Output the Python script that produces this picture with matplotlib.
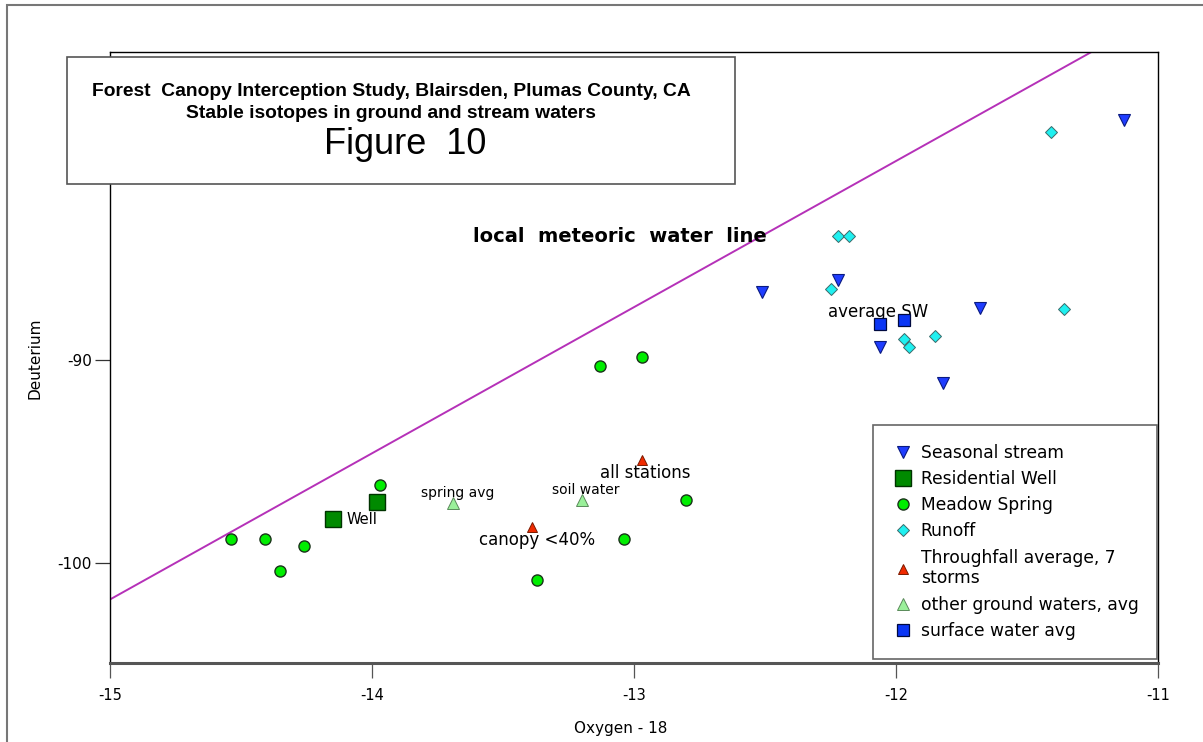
"""Stable isotope plot (deuterium vs oxygen-18) for the canopy interception study."""
import matplotlib
matplotlib.use("Agg")
import matplotlib.pyplot as plt
from matplotlib.patches import Rectangle

# --- data ------------------------------------------------------------------
seasonal_o18 = [-11.13, -12.51, -12.22, -12.06, -11.82, -11.68]
seasonal_d = [-78.20, -86.65, -86.05, -89.35, -91.15, -87.45]

well_o18 = [-14.15, -13.98]
well_d = [-97.85, -96.98]

spring_o18 = [-14.54, -14.41, -14.26, -14.35, -13.97, -13.13, -12.97, -12.80, -13.04, -13.37]
spring_d = [-98.82, -98.82, -99.16, -100.39, -96.16, -90.30, -89.85, -96.90, -98.82, -100.84]

runoff_o18 = [-11.41, -12.22, -12.18, -12.25, -11.36, -11.97, -11.95, -11.85]
runoff_d = [-78.78, -83.89, -83.89, -86.52, -87.50, -88.98, -89.34, -88.80]

throughfall_o18 = [-12.97, -13.39]
throughfall_d = [-94.93, -98.24]
throughfall_labels = ["all stations", "canopy <40%"]

ground_avg_o18 = [-13.69, -13.20]
ground_avg_d = [-97.03, -96.90]
ground_avg_labels = ["spring avg", "soil water"]

sw_avg_o18 = [-12.06, -11.97]
sw_avg_d = [-88.24, -88.03]

# local meteoric water line end points
mwl_o18 = [-15.0, -11.0]
mwl_d = [-101.8, -73.0]

x_ticks = [-15, -14, -13, -12, -11]
y_ticks = [-100, -90]

plt.rcParams["font.family"] = ["DejaVu Sans"]

W, H = 1203, 742
fig = plt.figure(figsize=(W / 100, H / 100), dpi=100)


def fx(px):
    return px / W


def fy(py):
    return 1 - py / H


ax = fig.add_axes([fx(110), fy(663), fx(1158) - fx(110), fy(52) - fy(663)])
ax.set_xlim(-15, -11)
ax.set_ylim(-104.93, -74.83)

# meteoric water line
ax.plot(mwl_o18, mwl_d, color="#b531b8", linewidth=1.4, zorder=2)

# series, in legend order
ax.plot(seasonal_o18, seasonal_d, "v", ms=8, mfc="#1f3dff", mec="#0a1a80", mew=0.8,
        linestyle="none", label="Seasonal stream", zorder=4)
ax.plot(well_o18, well_d, "s", ms=11, mfc="#008a00", mec="#003300", mew=1.0,
        linestyle="none", label="Residential Well", zorder=4)
ax.plot(spring_o18, spring_d, "o", ms=8, mfc="#00ee00", mec="#1a331a", mew=1.0,
        linestyle="none", label="Meadow Spring", zorder=4)
ax.plot(runoff_o18, runoff_d, "D", ms=6, mfc="#1ff0f0", mec="#3a6a6a", mew=0.7,
        linestyle="none", label="Runoff", zorder=4)
ax.plot(throughfall_o18, throughfall_d, "^", ms=7.5, mfc="#f02a00", mec="#7a1a00", mew=0.7,
        linestyle="none", label="Throughfall average, 7\nstorms", zorder=4)
ax.plot(ground_avg_o18, ground_avg_d, "^", ms=8, mfc="#9af09a", mec="#5a8a5a", mew=0.7,
        linestyle="none", label="other ground waters, avg", zorder=4)
ax.plot(sw_avg_o18, sw_avg_d, "s", ms=8.5, mfc="#0b36f5", mec="#000a40", mew=0.9,
        linestyle="none", label="surface water avg", zorder=4)

# point annotations
ax.annotate("Well", (well_o18[0], well_d[0]), xytext=(10, 0), textcoords="offset points",
            ha="left", va="center", fontsize=10.5)
for o, d, lab in zip(ground_avg_o18, ground_avg_d, ground_avg_labels):
    ax.annotate(lab, (o, d), xytext=(3, 7), textcoords="offset points",
                ha="center", va="center", fontsize=10)
ax.annotate(throughfall_labels[0], (throughfall_o18[0], throughfall_d[0]), xytext=(2.5, -9.5),
            textcoords="offset points", ha="center", va="center", fontsize=12)
ax.annotate(throughfall_labels[1], (throughfall_o18[1], throughfall_d[1]), xytext=(3.5, -9.5),
            textcoords="offset points", ha="center", va="center", fontsize=12)
ax.annotate("average SW", (sw_avg_o18[0], sw_avg_d[0]), xytext=(-1.5, 9),
            textcoords="offset points", ha="center", va="center", fontsize=12)
ax.text(-13.053, -83.94, "local  meteoric  water  line", ha="center", va="center",
        fontsize=14, fontweight="bold")

# axes styling
ax.set_xticks(x_ticks)
ax.set_xticklabels([str(t) for t in x_ticks])
ax.set_yticks(y_ticks)
ax.set_yticklabels([str(t) for t in y_ticks])
ax.tick_params(axis="x", direction="out", length=11, width=0.9, color="#555555",
               pad=7, labelsize=10.5)
ax.tick_params(axis="y", direction="out", length=11, width=0.9, color="#333333",
               pad=2, labelsize=11)
for side in ("left", "top", "right"):
    ax.spines[side].set_color("black")
    ax.spines[side].set_linewidth(1.0)
ax.spines["bottom"].set_color("#555555")
ax.spines["bottom"].set_linewidth(2.2)

fig.text(fx(35), fy(358), "Deuterium", rotation=90, ha="center", va="center", fontsize=11)
fig.text(fx(621), fy(728), "Oxygen - 18", ha="center", va="center", fontsize=11)

leg = ax.legend(loc="upper left", bbox_to_anchor=((873 - 110) / 1048, (663 - 425) / 611),
                fontsize=12.3, numpoints=1, handlelength=1.3, handletextpad=0.4,
                borderpad=1.1, labelspacing=0.48, fancybox=False, framealpha=1,
                borderaxespad=0)
leg.get_frame().set_edgecolor("#666666")
leg.get_frame().set_linewidth(1.2)
leg.set_zorder(6)

# title box (sits partly outside the axes)
fig.add_artist(Rectangle((fx(67), fy(184)), fx(735) - fx(67), fy(57) - fy(184),
                         transform=fig.transFigure, facecolor="white",
                         edgecolor="#555555", linewidth=1.2, zorder=5))
fig.text(fx(391), fy(91), "Forest  Canopy Interception Study, Blairsden, Plumas County, CA",
         ha="center", va="center", fontsize=13.9, fontweight="bold",
         family="Liberation Sans", zorder=6)
fig.text(fx(391), fy(113), "Stable isotopes in ground and stream waters",
         ha="center", va="center", fontsize=13.9, fontweight="bold",
         family="Liberation Sans", zorder=6)
fig.text(fx(405), fy(145), "Figure  10", ha="center", va="center", fontsize=26,
         family="Liberation Sans", zorder=6)

# outer frame of the page
fig.add_artist(Rectangle((fx(7), fy(H + 20)), fx(W + 20) - fx(7), fy(5) - fy(H + 20),
                         transform=fig.transFigure, facecolor="none",
                         edgecolor="#777777", linewidth=1.5))

fig.savefig("out.png", dpi=100)
